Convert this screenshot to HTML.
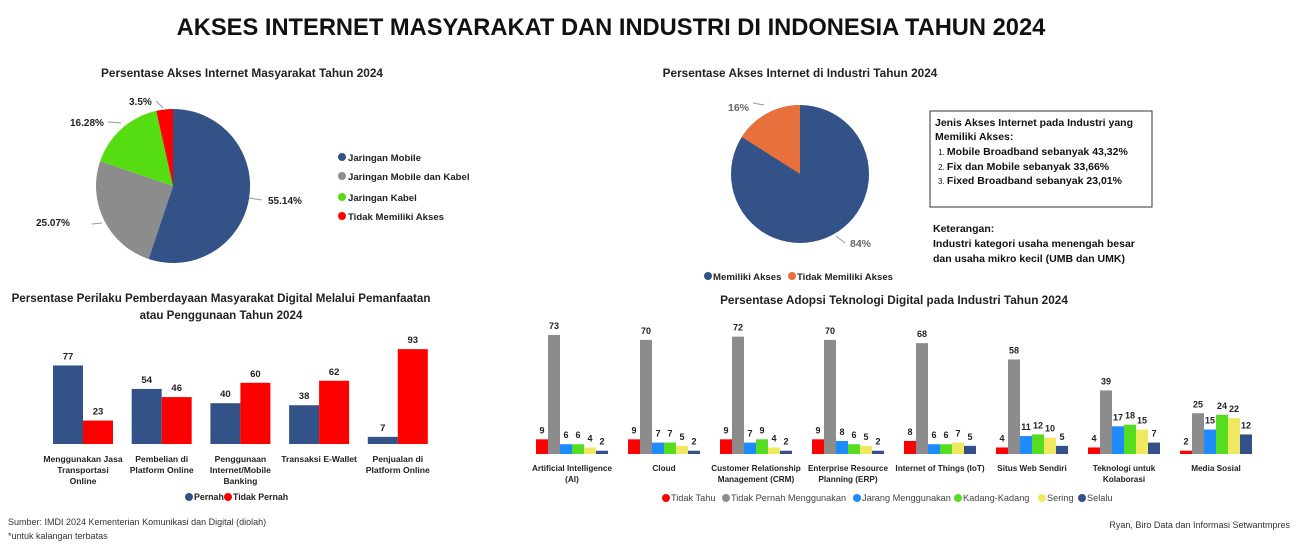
<!DOCTYPE html>
<html><head><meta charset="utf-8"><style>
body{margin:0;background:#fff;}
svg{display:block;font-family:"Liberation Sans",sans-serif;}
</style></head><body>
<svg id="s" width="1297" height="544" viewBox="0 0 1297 544" xmlns="http://www.w3.org/2000/svg">
<text x="611" y="35" text-anchor="middle" font-size="23.7" font-weight="bold" fill="#111">AKSES INTERNET MASYARAKAT DAN INDUSTRI DI INDONESIA TAHUN 2024</text>
<text x="242" y="77" text-anchor="middle" font-size="11.8" font-weight="bold" fill="#222">Persentase Akses Internet Masyarakat Tahun 2024</text>
<text x="800" y="77" text-anchor="middle" font-size="11.8" font-weight="bold" fill="#222">Persentase Akses Internet di Industri Tahun 2024</text>
<!-- pie 1 -->
<path d="M173,186 L173,109 A77,77 0 1,1 148.6,259 Z" fill="#335288"/>
<path d="M173,186 L148.6,259 A77,77 0 0,1 100.1,161.2 Z" fill="#8c8c8c"/>
<path d="M173,186 L100.1,161.2 A77,77 0 0,1 156.2,110.9 Z" fill="#55dd11"/>
<path d="M173,186 L156.2,110.9 A77,77 0 0,1 173,109 Z" fill="#ff0000"/>
<g stroke="#999" fill="none" stroke-width="1">
<path d="M249,198 L262,200"/><path d="M102,223 L92,224"/><path d="M121,123 L108,122"/><path d="M163,108 L156,101"/>
</g>
<g font-size="10" font-weight="bold" fill="#222">
<text x="268" y="204">55.14%</text>
<text x="36" y="226">25.07%</text>
<text x="70" y="126">16.28%</text>
<text x="129" y="105">3.5%</text>
</g>
<g font-size="9.6" font-weight="bold" fill="#222">
<circle cx="342" cy="157" r="4" fill="#335288"/><text x="348" y="161">Jaringan Mobile</text>
<circle cx="342" cy="176" r="4" fill="#8c8c8c"/><text x="348" y="180">Jaringan Mobile dan Kabel</text>
<circle cx="342" cy="197" r="4" fill="#55dd11"/><text x="348" y="201">Jaringan Kabel</text>
<circle cx="342" cy="216" r="4" fill="#ff0000"/><text x="348" y="220">Tidak Memiliki Akses</text>
</g>
<!-- pie 2 -->
<circle cx="800" cy="174" r="69" fill="#335288"/>
<path d="M800,174 L800,105 A69,69 0 0,0 741.8,137 Z" fill="#e8703a"/>
<g stroke="#999" fill="none"><path d="M764,105 L753,103"/><path d="M836,236 L845,243"/></g>
<text x="728" y="111" font-size="10.5" font-weight="bold" fill="#666">16%</text>
<text x="850" y="247" font-size="10.5" font-weight="bold" fill="#666">84%</text>
<g font-size="9.6" font-weight="bold" fill="#222">
<circle cx="708" cy="276" r="4" fill="#335288"/><text x="713" y="280">Memiliki Akses</text>
<circle cx="792" cy="276" r="4" fill="#e8703a"/><text x="797" y="280">Tidak Memiliki Akses</text>
</g>
<rect x="930" y="111" width="222" height="96" fill="#fff" stroke="#333" stroke-width="1"/>
<g font-size="10.5" font-weight="bold" fill="#111">
<text x="935" y="126">Jenis Akses Internet pada Industri yang</text>
<text x="935" y="140">Memiliki Akses:</text>
<text x="938" y="155"><tspan font-size="8" font-weight="normal">1. </tspan>Mobile Broadband sebanyak 43,32%</text>
<text x="938" y="170"><tspan font-size="8" font-weight="normal">2. </tspan>Fix dan Mobile sebanyak 33,66%</text>
<text x="938" y="184"><tspan font-size="8" font-weight="normal">3. </tspan>Fixed Broadband sebanyak 23,01%</text>
<text x="933" y="232">Keterangan:</text>
<text x="933" y="247">Industri kategori usaha menengah besar</text>
<text x="933" y="262">dan usaha mikro kecil (UMB dan UMK)</text>
</g>
<text x="221" y="302" text-anchor="middle" font-size="11.6" font-weight="bold" fill="#222">Persentase Perilaku Pemberdayaan Masyarakat Digital Melalui Pemanfaatan</text>
<text x="221" y="319" text-anchor="middle" font-size="11.6" font-weight="bold" fill="#222">atau Penggunaan Tahun 2024</text>
<text x="894" y="304" text-anchor="middle" font-size="11.8" font-weight="bold" fill="#222">Persentase Adopsi Teknologi Digital pada Industri Tahun 2024</text>
<g id="left"></g>
<g id="right"></g>
<g font-size="8.8" font-weight="bold" fill="#222">
<circle cx="189" cy="497" r="4" fill="#335288"/><text x="194" y="500">Pernah</text>
<circle cx="228" cy="497" r="4" fill="#ff0000"/><text x="233" y="500">Tidak Pernah</text>
</g>
<g font-size="9.2" fill="#444">
<circle cx="666" cy="498" r="4" fill="#ff0000"/><text x="671" y="501">Tidak Tahu</text>
<circle cx="726" cy="498" r="4" fill="#8c8c8c"/><text x="731" y="501">Tidak Pernah Menggunakan</text>
<circle cx="857" cy="498" r="4" fill="#1e8cff"/><text x="862" y="501">Jarang Menggunakan</text>
<circle cx="958" cy="498" r="4" fill="#55dd22"/><text x="963" y="501">Kadang-Kadang</text>
<circle cx="1042" cy="498" r="4" fill="#f0e860"/><text x="1047" y="501">Sering</text>
<circle cx="1082" cy="498" r="4" fill="#33508a"/><text x="1087" y="501">Selalu</text>
</g>
<g font-size="9" fill="#333">
<text x="8" y="525">Sumber: IMDI 2024 Kementerian Komunikasi dan Digital (diolah)</text>
<text x="8" y="539">*untuk kalangan terbatas</text>
<text x="1290" y="528" text-anchor="end">Ryan, Biro Data dan Informasi Setwantmpres</text>
</g>
</svg>
<script>
var NS="http://www.w3.org/2000/svg";
function el(p,t,a,txt){var e=document.createElementNS(NS,t);for(var k in a)e.setAttribute(k,a[k]);if(txt!=null)e.textContent=txt;p.appendChild(e);return e;}
var L=document.getElementById("left");
var ld=[[77,23],[54,46],[40,60],[38,62],[7,93]];
var lc=[["Menggunakan Jasa","Transportasi","Online"],["Pembelian di","Platform Online"],["Penggunaan","Internet/Mobile","Banking"],["Transaksi E-Wallet"],["Penjualan di","Platform Online"]];
var cols=["#335288","#ff0000"];
for(var i=0;i<5;i++){var x0=53+78.7*i;
 for(var k=0;k<2;k++){var v=ld[i][k],h=v*1.02,x=x0+30*k;
  el(L,"rect",{x:x,y:444-h,width:30,height:h,fill:cols[k]});
  el(L,"text",{x:x+15,y:444-h-6,"text-anchor":"middle","font-size":"9.5","font-weight":"bold",fill:"#222"},v);}
 for(var j=0;j<lc[i].length;j++)el(L,"text",{x:x0+30,y:462+j*11,"text-anchor":"middle","font-size":"8.6","font-weight":"bold",fill:"#222"},lc[i][j]);
}
var R=document.getElementById("right");
var rd=[[9,73,6,6,4,2],[9,70,7,7,5,2],[9,72,7,9,4,2],[9,70,8,6,5,2],[8,68,6,6,7,5],[4,58,11,12,10,5],[4,39,17,18,15,7],[2,25,15,24,22,12]];
var rc=[["Artificial Intelligence","(AI)"],["Cloud"],["Customer Relationship","Management (CRM)"],["Enterprise Resource","Planning (ERP)"],["Internet of Things (IoT)"],["Situs Web Sendiri"],["Teknologi untuk","Kolaborasi"],["Media Sosial"]];
var rcol=["#ff0000","#8c8c8c","#1e8cff","#55dd22","#f0e860","#33508a"];
for(var i=0;i<8;i++){var g=536+92*i;
 for(var k=0;k<6;k++){var v=rd[i][k],h=v*1.63,x=g+12*k;
  el(R,"rect",{x:x,y:454-h,width:12,height:h,fill:rcol[k]});
  el(R,"text",{x:x+6,y:454-h-6,"text-anchor":"middle","font-size":"9","font-weight":"bold",fill:"#222"},v);}
 for(var j=0;j<rc[i].length;j++)el(R,"text",{x:g+36,y:471+j*11,"text-anchor":"middle","font-size":"8.2","font-weight":"bold",fill:"#222"},rc[i][j]);
}
</script>
</body></html>
